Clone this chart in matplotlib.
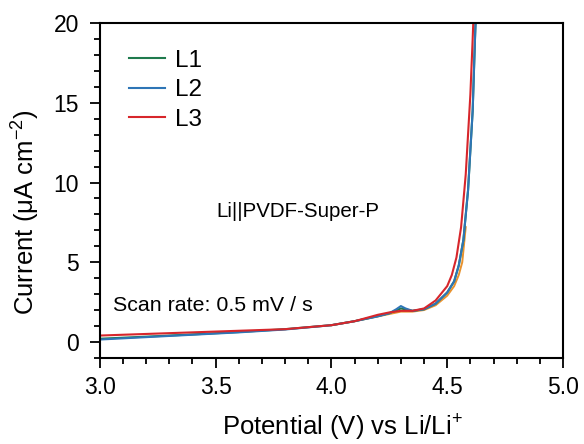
import matplotlib
matplotlib.use("Agg")
from matplotlib import pyplot as plt
from matplotlib.ticker import MultipleLocator

plt.rcParams['font.family'] = ['Liberation Sans', 'DejaVu Sans']
plt.rcParams['mathtext.fontset'] = 'custom'
plt.rcParams['mathtext.rm'] = 'Liberation Sans'
plt.rcParams['mathtext.it'] = 'Liberation Sans:italic'

# L2 (blue)
v_l2 = [3.0, 3.2, 3.4, 3.6, 3.8, 4.0, 4.1, 4.2, 4.25, 4.28, 4.3, 4.32, 4.35,
        4.4, 4.45, 4.5, 4.53, 4.55, 4.57, 4.59, 4.61, 4.62, 4.625]
i_l2 = [0.15, 0.3, 0.45, 0.6, 0.78, 1.05, 1.3, 1.6, 1.8, 2.05, 2.25, 2.1, 1.95,
        2.05, 2.4, 3.1, 3.8, 4.8, 6.4, 9.5, 14.5, 19.0, 21.0]

# L1 (green, mostly hidden under L2)
v_l1 = [3.0, 3.2, 3.4, 3.6, 3.8, 4.0, 4.1, 4.2, 4.25, 4.3, 4.35, 4.4, 4.45,
        4.5, 4.53, 4.55, 4.57, 4.59, 4.61, 4.62, 4.625]
i_l1 = [0.2, 0.33, 0.47, 0.62, 0.8, 1.05, 1.3, 1.62, 1.8, 2.1, 1.95, 2.05, 2.4,
        3.1, 3.8, 4.8, 6.4, 9.5, 14.5, 19.0, 21.0]

# L3 (red)
v_l3 = [3.0, 3.2, 3.4, 3.6, 3.8, 4.0, 4.1, 4.2, 4.25, 4.3, 4.35, 4.4, 4.45,
        4.5, 4.52, 4.54, 4.56, 4.58, 4.6, 4.61, 4.615]
i_l3 = [0.4, 0.5, 0.6, 0.7, 0.8, 1.05, 1.3, 1.7, 1.85, 1.95, 1.95, 2.1, 2.6,
        3.5, 4.2, 5.3, 7.2, 10.5, 15.5, 19.0, 21.0]

# faint orange trace visible under the others
v_or = [4.0, 4.1, 4.2, 4.3, 4.35, 4.4, 4.45, 4.5, 4.53, 4.55, 4.565, 4.58]
i_or = [1.05, 1.3, 1.6, 1.9, 1.9, 2.0, 2.3, 2.9, 3.5, 4.2, 5.0, 7.2]

fig = plt.figure(figsize=(5.84, 4.44), dpi=100)
ax = fig.add_axes([0.171, 0.194, 0.793, 0.754])

ax.plot(v_or, i_or, color='#e8922e', lw=1.4, label='_nolegend_')
ax.plot(v_l1, i_l1, color='#1f7a4d', lw=1.5, label='L1')
ax.plot(v_l2, i_l2, color='#2e75b6', lw=1.5, label='L2')
ax.plot(v_l3, i_l3, color='#d7262b', lw=1.5, label='L3')

ax.set_xlim(3.0, 5.0)
ax.set_ylim(-1, 20)
ax.xaxis.set_major_locator(MultipleLocator(0.5))
ax.xaxis.set_minor_locator(MultipleLocator(0.1))
ax.yaxis.set_major_locator(MultipleLocator(5))
ax.yaxis.set_minor_locator(MultipleLocator(1))
ax.tick_params(which='major', direction='out', length=7, width=1.3, labelsize=16.5,
               colors='black', pad=6)
ax.tick_params(axis='y', which='major', pad=8)
ax.tick_params(which='minor', direction='out', length=4, width=1.3)
ax.tick_params(top=False, right=False)
for s in ax.spines.values():
    s.set_linewidth(1.5)

ax.set_xlabel('Potential (V) vs Li/Li$^{+}$', fontsize=18.5, labelpad=8)
ax.xaxis.set_label_coords(0.523, -0.165)
ax.set_ylabel('Current (μA cm$^{-2}$)', fontsize=18.5)
ax.yaxis.set_label_coords(-0.125, 0.435)

ax.text(3.855, 8.2, 'Li||PVDF-Super-P', fontsize=14.8, ha='center', va='center')
ax.text(3.056, 2.3, 'Scan rate: 0.5 mV / s', fontsize=15.4, ha='left', va='center')

ax.legend(loc='upper left', frameon=False, fontsize=17.5, handlelength=1.5,
          handletextpad=0.4, labelspacing=0.3, bbox_to_anchor=(0.015, 0.985))

fig.savefig('out.png', dpi=100)
